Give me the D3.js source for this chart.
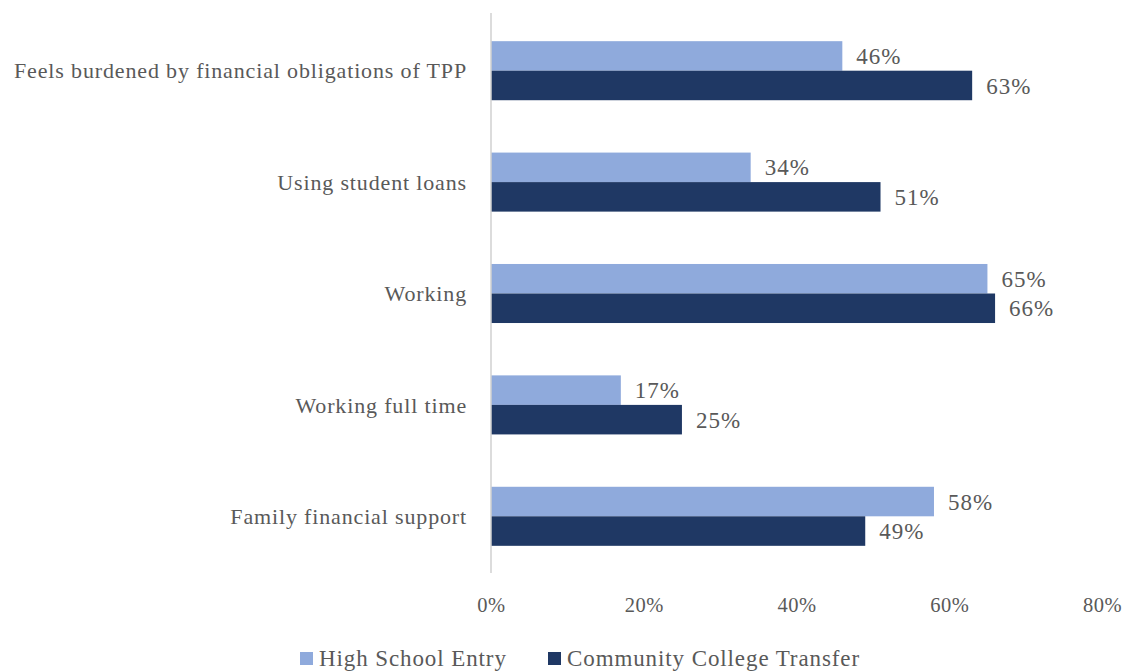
<!DOCTYPE html>
<html>
<head>
<meta charset="utf-8">
<script src="https://cdn.jsdelivr.net/npm/d3@7"></script>
<style>
  html, body { margin: 0; padding: 0; background: #fff; }
</style>
</head>
<body>
<svg id="chart" width="1125" height="671"></svg>
<script>
// Financial indicators by entry pathway
const categories = [
  "Feels burdened by financial obligations of TPP",
  "Using student loans",
  "Working",
  "Working full time",
  "Family financial support"
];
const seriesNames = ["High School Entry", "Community College Transfer"];
const highSchoolEntry = [0.46, 0.34, 0.65, 0.17, 0.58];
const communityCollegeTransfer = [0.63, 0.51, 0.66, 0.25, 0.49];
const tickValues = [0, 0.2, 0.4, 0.6, 0.8];
const colors = ["#8faadc", "#1f3864"];

const FONT = "Liberation Serif";
const TEXT = "#595959";

const svg = d3.select("#chart");
const margin = { left: 491, right: 23, top: 15, bottom: 99 };
const W = 1125, H = 671;

const x = d3.scaleLinear().domain([0, 0.8]).range([margin.left, W - margin.right]);
const y = d3.scaleBand().domain(categories).range([margin.top, H - margin.bottom]).paddingInner(0.47).paddingOuter(0.235);
const ySub = d3.scaleBand().domain(seriesNames).range([0, y.bandwidth()]);

const series = [highSchoolEntry, communityCollegeTransfer];
const pct = d3.format(".0%");

// bars and value labels
series.forEach((vals, si) => {
  const rows = categories.map((c, i) => ({ c, v: vals[i] }));
  svg.append("g").selectAll("rect")
    .data(rows)
    .join("rect")
    .attr("x", x(0))
    .attr("y", d => y(d.c) + ySub(seriesNames[si]))
    .attr("width", d => x(d.v) - x(0))
    .attr("height", ySub.bandwidth())
    .attr("fill", colors[si]);

  svg.append("g").selectAll("text")
    .data(rows)
    .join("text")
    .attr("x", d => x(d.v) + 14)
    .attr("y", d => y(d.c) + ySub(seriesNames[si]) + ySub.bandwidth() / 2)
    .attr("dy", "0.35em")
    .attr("font-family", FONT)
    .attr("font-size", 23)
    .attr("letter-spacing", 1)
    .attr("fill", TEXT)
    .text(d => pct(d.v));
});

// vertical axis line
svg.append("line")
  .attr("x1", x(0)).attr("x2", x(0))
  .attr("y1", 13).attr("y2", 573)
  .attr("stroke", "#d0d0d0").attr("stroke-width", 1.5);

// category labels
svg.append("g").selectAll("text")
  .data(categories)
  .join("text")
  .attr("x", 467)
  .attr("y", d => y(d) + y.bandwidth() / 2)
  .attr("dy", "0.35em")
  .attr("text-anchor", "end")
  .attr("font-family", FONT)
  .attr("font-size", 22)
  .attr("letter-spacing", 0.85)
  .attr("fill", TEXT)
  .text(d => d);

// x axis tick labels
const xAxis = d3.axisBottom(x).tickValues(tickValues).tickFormat(d3.format(".0%")).tickSize(0).tickPadding(0);
const gx = svg.append("g").attr("transform", `translate(0, 597)`).call(xAxis);
gx.select(".domain").remove();
gx.attr("font-family", FONT).attr("font-size", 20.5);
gx.selectAll("text").attr("fill", TEXT).attr("letter-spacing", 0.5);

// legend
const legend = svg.append("g");
const legendX = [300, 548];
seriesNames.forEach((name, i) => {
  legend.append("rect")
    .attr("x", legendX[i]).attr("y", 652)
    .attr("width", 13).attr("height", 13)
    .attr("fill", colors[i]);
  legend.append("text")
    .attr("x", legendX[i] + 19).attr("y", 658)
    .attr("dy", "0.35em")
    .attr("font-family", FONT)
    .attr("font-size", 23)
    .attr("letter-spacing", 0.9)
    .attr("fill", TEXT)
    .text(name);
});
</script>
</body>
</html>
